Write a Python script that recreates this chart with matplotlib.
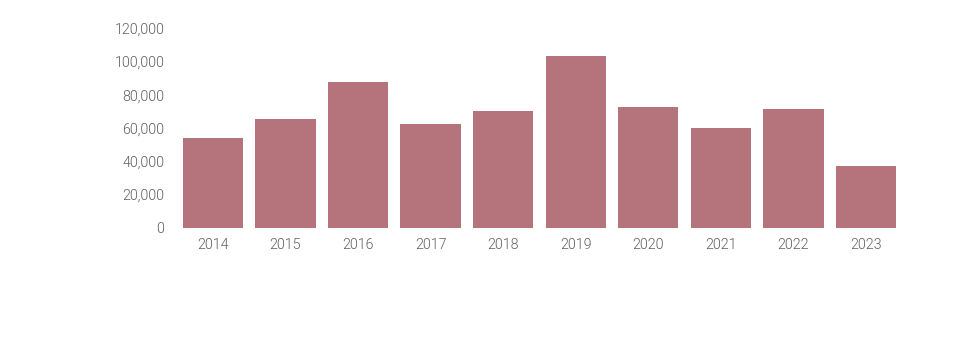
import matplotlib.pyplot as plt
from matplotlib.ticker import FuncFormatter

years = ["2014", "2015", "2016", "2017", "2018", "2019", "2020", "2021", "2022", "2023"]
values = [54000, 65400, 87700, 62400, 70200, 103300, 72600, 60000, 71400, 37100]
y_ticks = [0, 20000, 40000, 60000, 80000, 100000, 120000]

BAR_COLOR = "#B5737C"
TEXT_COLOR = "#5f5f5f"

plt.rcParams['font.family'] = ['Roboto', 'DejaVu Sans']

fig = plt.figure(figsize=(9.58, 3.41), dpi=100)
ax = fig.add_axes([0.1844, 0.3323, 0.7574, 0.5848])

ax.bar(range(len(years)), values, width=0.83, color=BAR_COLOR)

ax.set_xlim(-0.5, len(years) - 0.5)
ax.set_ylim(0, 120000)
ax.set_xticks(range(len(years)))
ax.set_xticklabels(years)
ax.set_yticks(y_ticks)
ax.yaxis.set_major_formatter(FuncFormatter(lambda v, p: f"{int(v):,}"))

for s in ax.spines.values():
    s.set_visible(False)
ax.tick_params(axis='both', length=0, colors=TEXT_COLOR, labelsize=10.3)
ax.tick_params(axis='y', pad=9)
ax.tick_params(axis='x', pad=7.5)
for lbl in ax.get_xticklabels() + ax.get_yticklabels():
    lbl.set_fontweight(300)

fig.savefig("out.png", dpi=100)
